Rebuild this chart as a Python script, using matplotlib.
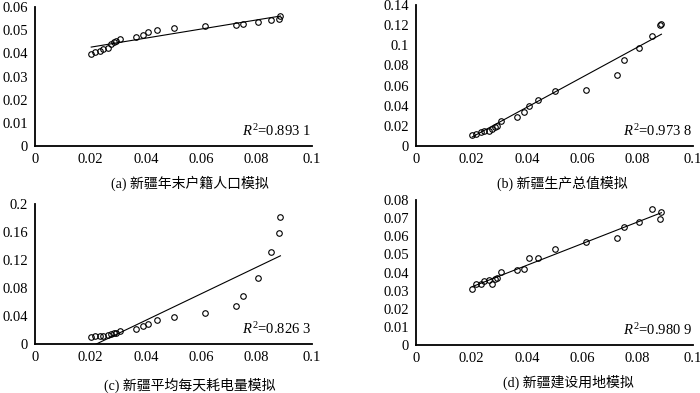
import numpy as np
import matplotlib.pyplot as plt

plt.rcParams['font.family'] = ['Liberation Serif', 'Noto Sans CJK SC']
plt.rcParams['mathtext.fontset'] = 'custom'
plt.rcParams['mathtext.rm'] = 'Liberation Serif'
plt.rcParams['mathtext.it'] = 'Liberation Serif:italic'

# shared x values (normalised index)
x = [0.0203, 0.0215, 0.0233, 0.0247, 0.0263, 0.0275, 0.0285, 0.0294, 0.0308,
     0.0364, 0.0389, 0.0408, 0.0441, 0.0502, 0.0614, 0.0724, 0.0752, 0.0804,
     0.0852, 0.0880, 0.0886]

y_a = [0.0399, 0.0406, 0.0411, 0.0419, 0.0424, 0.0440, 0.0447, 0.0455, 0.0463,
       0.0470, 0.0481, 0.0491, 0.0502, 0.0511, 0.0518, 0.0522, 0.0528, 0.0534,
       0.0542, 0.0550, 0.0563]
y_b = [0.0106, 0.0119, 0.0136, 0.0146, 0.0153, 0.0173, 0.0189, 0.0202, 0.0249,
       0.0289, 0.0342, 0.0395, 0.0461, 0.0547, 0.0557, 0.0707, 0.0856, 0.0975,
       0.1095, 0.1200, 0.1208]
y_c = [0.0095, 0.0110, 0.0119, 0.0119, 0.0124, 0.0138, 0.0152, 0.0162, 0.0186,
       0.0219, 0.0252, 0.0290, 0.0338, 0.0390, 0.0448, 0.0538, 0.0690, 0.0948,
       0.1320, 0.1580, 0.1810]
y_d = [0.0309, 0.0338, 0.0335, 0.0355, 0.0357, 0.0335, 0.0364, 0.0370, 0.0401,
       0.0414, 0.0421, 0.0478, 0.0480, 0.0531, 0.0566, 0.0592, 0.0653, 0.0679,
       0.0752, 0.0697, 0.0736]

# trend lines (value at x min, value at x max)
fit_a = [0.0427, 0.0561]
fit_b = [0.0090, 0.1110]
fit_c = [-0.0035, 0.1260]
fit_d = [0.0322, 0.0730]

r2 = ['0.893 1', '0.973 8', '0.826 3', '0.980 9']
captions = ['(a) 新疆年末户籍人口模拟', '(b) 新疆生产总值模拟',
            '(c) 新疆平均每天耗电量模拟', '(d) 新疆建设用地模拟']
yticks = [np.arange(0, 0.061, 0.01), np.arange(0, 0.141, 0.02),
          np.arange(0, 0.201, 0.04), np.arange(0, 0.081, 0.01)]
yfmt = [['0', '0.01', '0.02', '0.03', '0.04', '0.05', '0.06'],
        ['0', '0.02', '0.04', '0.06', '0.08', '0.1', '0.12', '0.14'],
        ['0', '0.04', '0.08', '0.12', '0.16', '0.2'],
        ['0', '0.01', '0.02', '0.03', '0.04', '0.05', '0.06', '0.07', '0.08']]
xticks = [0, 0.02, 0.04, 0.06, 0.08, 0.1]
xlabels = ['0', '0.02', '0.04', '0.06', '0.08', '0.1']

W, H = 700, 393
boxes = [(35, 7, 312, 146), (416, 5, 693, 146), (35, 204, 312, 344), (416, 200, 693, 345)]
cap_pos = [(190, 183), (562, 183), (190, 385), (568, 382)]
ys = [y_a, y_b, y_c, y_d]
fits = [fit_a, fit_b, fit_c, fit_d]

fig = plt.figure(figsize=(7, 3.93), dpi=100)
for i in range(4):
    l, t, r, b = boxes[i]
    ax = fig.add_axes([l / W, 1 - b / H, (r - l) / W, (b - t) / H])
    ax.plot(x, ys[i], 'o', mfc='none', mec='black', ms=4, mew=0.8)
    ax.plot([min(x), max(x)], fits[i], color='black', lw=0.8)
    ax.set_xlim(0, 0.1)
    ax.set_ylim(0, yticks[i][-1])
    ax.set_xticks(xticks)
    ax.set_xticklabels(xlabels)
    ax.set_yticks(yticks[i])
    ax.set_yticklabels(yfmt[i])
    ax.tick_params(length=0, labelsize=10.5, pad=5)
    for s in ['top', 'right']:
        ax.spines[s].set_visible(False)
    for s in ['left', 'bottom']:
        ax.spines[s].set_linewidth(1.3)
    ax.text(0.995, 0.05, r'$R^2$=' + r2[i], transform=ax.transAxes,
            ha='right', va='bottom', fontsize=10.5)
    cx, cy = cap_pos[i]
    fig.text(cx / W, 1 - cy / H, captions[i], ha='center', va='center', fontsize=10)

fig.savefig('out.png', dpi=100)
